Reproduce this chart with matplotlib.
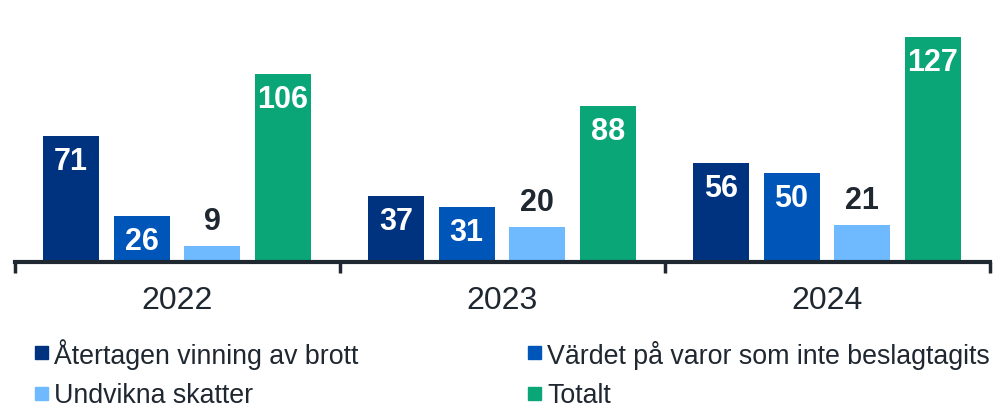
import matplotlib
matplotlib.use("Agg")
import matplotlib.pyplot as plt
import numpy as np
from matplotlib.patches import Rectangle

categories = ["2022", "2023", "2024"]
series_names = ["Återtagen vinning av brott", "Värdet på varor som inte beslagtagits",
                "Undvikna skatter", "Totalt"]
aterVinning = [71, 37, 56]
vardeVaror = [26, 31, 50]
undvSkatter = [9, 20, 21]
totalt = [106, 88, 127]
series_values = [aterVinning, vardeVaror, undvSkatter, totalt]

colors = ["#00337f", "#0055b8", "#6fbaff", "#0ba678"]
label_inside = [True, True, False, True]
dark = "#1f2730"

plt.rcParams['font.family'] = ['Liberation Sans', 'DejaVu Sans']

W, H = 1001, 416
fig = plt.figure(figsize=(W / 100, H / 100), dpi=100)
ax_left, ax_right, ax_bottom, ax_top = 15, 990, 262, 22.7
ax = fig.add_axes([ax_left / W, (H - ax_bottom) / H, (ax_right - ax_left) / W,
                   (ax_bottom - ax_top) / H])

x = np.arange(len(categories))
step = 0.217
bw = 0.1723
for i, (vals, col) in enumerate(zip(series_values, colors)):
    off = (i - 1.5) * step - 0.002
    bars = ax.bar(x + off, vals, width=bw, color=col, zorder=2)
    for b, v in zip(bars, vals):
        cx = b.get_x() + b.get_width() / 2
        if label_inside[i]:
            ax.annotate(str(v), (cx, v), xytext=(0, -18.7), textcoords="offset points",
                        ha="center", va="center", color="white", fontsize=22,
                        fontweight="bold")
        else:
            ax.annotate(str(v), (cx, v), xytext=(0, 17.3), textcoords="offset points",
                        ha="center", va="center", color=dark, fontsize=22,
                        fontweight="bold")

ax.set_xlim(-0.5, len(categories) - 0.5)
ax.set_ylim(0, 135)
for s in ["top", "right", "left"]:
    ax.spines[s].set_visible(False)
ax.spines["bottom"].set_linewidth(3)
ax.spines["bottom"].set_color(dark)
ax.set_yticks([])
ax.set_xticks(x)
ax.set_xticklabels(categories, fontsize=23, color=dark)
ax.tick_params(axis="x", which="major", length=0, pad=17)
ax.set_xticks(np.arange(len(categories) + 1) - 0.5, minor=True)
ax.tick_params(axis="x", which="minor", length=8, width=2.5, color=dark, direction="out")

# legend (manual layout)
leg_pos = [(35, 352), (528, 352), (35, 393), (528, 393)]
for (lx, ly), name, col in zip(leg_pos, series_names, colors):
    fig.patches.append(Rectangle((lx / W, (H - ly - 6.5) / H), 13 / W, 13 / H,
                                 transform=fig.transFigure, color=col, figure=fig))
    fig.text((lx + 19) / W, (H - ly) / H, name, fontsize=19.3, color=dark,
             ha="left", va="center_baseline")

fig.savefig("out.png", dpi=100)
